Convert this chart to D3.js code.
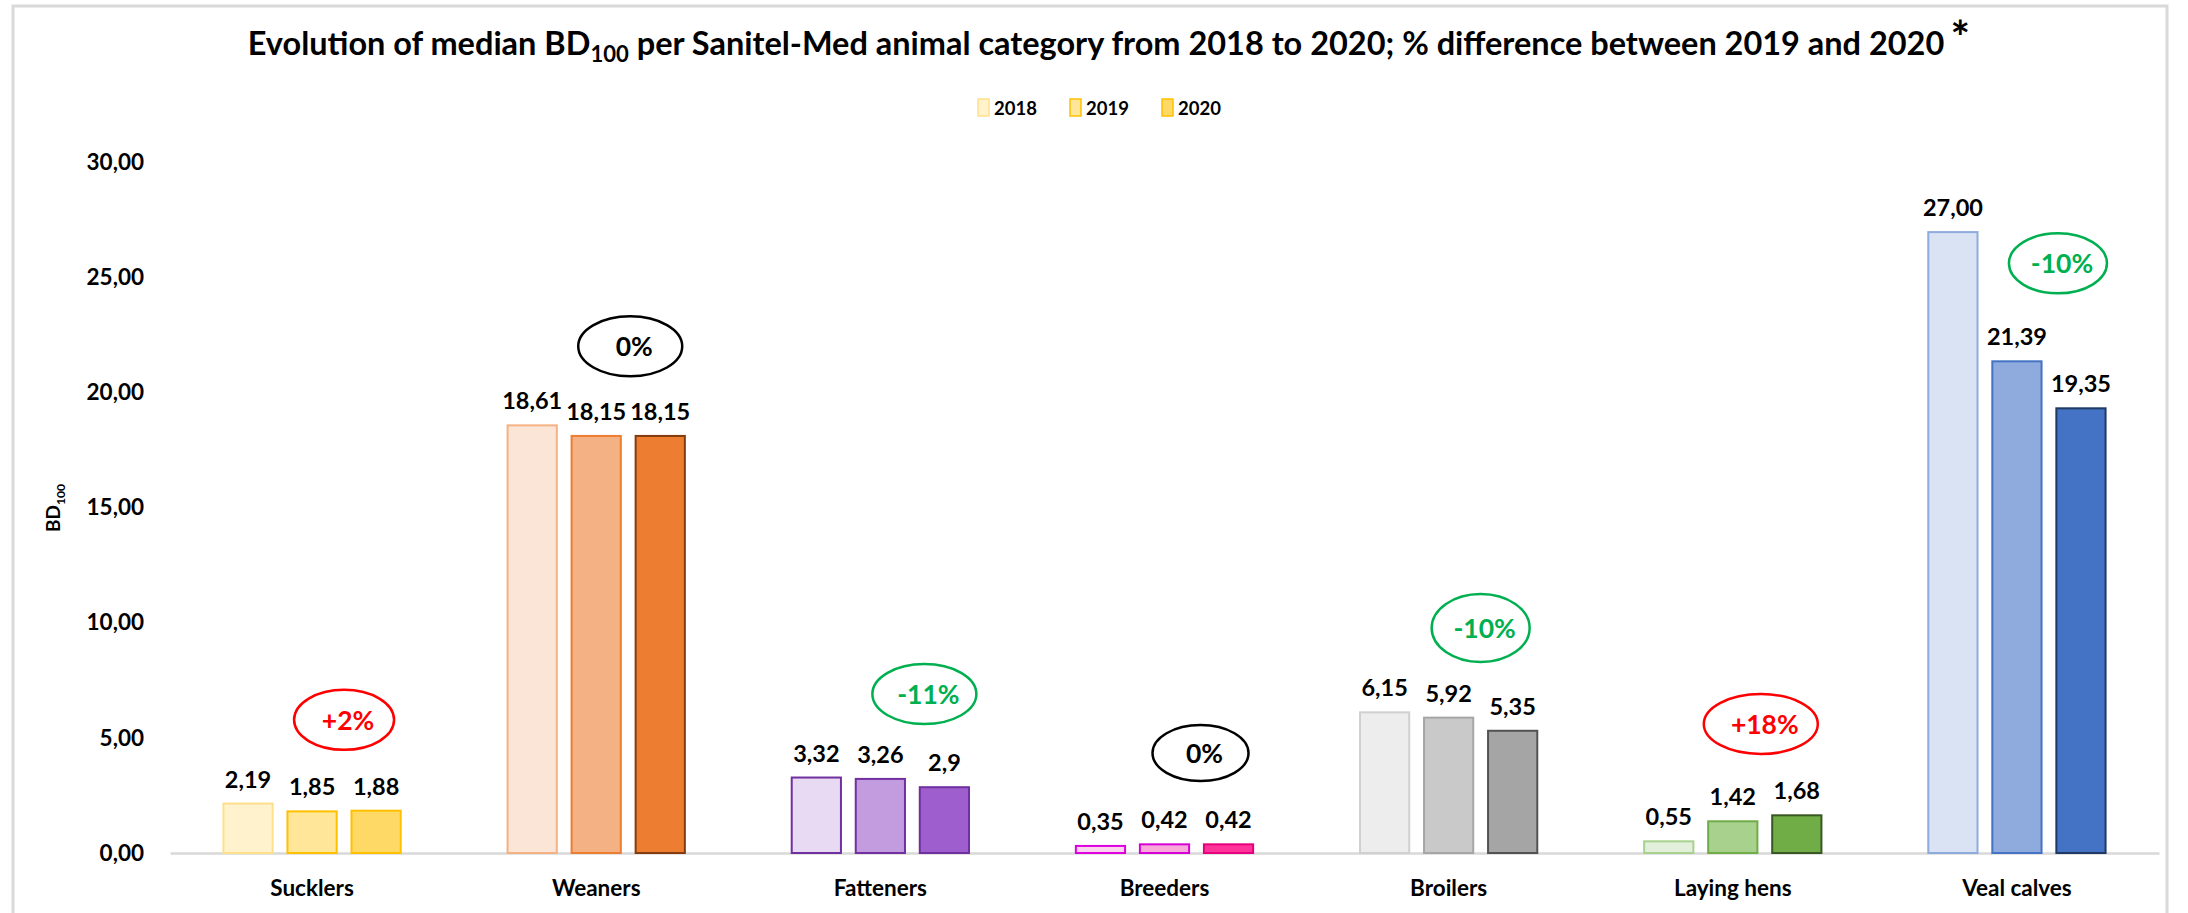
<!DOCTYPE html>
<html>
<head>
<meta charset="utf-8">
<script src="https://cdn.jsdelivr.net/npm/d3@7"></script>
<style>
  html, body { margin: 0; padding: 0; background: #fff; }
  svg { display: block; font-family: Lato, "Open Sans", sans-serif; }
</style>
</head>
<body>
<svg id="chart" width="2188" height="913"></svg>
<script>
// ---------------- data ----------------
const categories = ['Sucklers', 'Weaners', 'Fatteners', 'Breeders', 'Broilers', 'Laying hens', 'Veal calves'];
const years = ['2018', '2019', '2020'];
const values2018 = [2.19, 18.61, 3.32, 0.35, 6.15, 0.55, 27.00];
const values2019 = [1.85, 18.15, 3.26, 0.42, 5.92, 1.42, 21.39];
const values2020 = [1.88, 18.15, 2.9, 0.42, 5.35, 1.68, 19.35];
const labels2018 = ['2,19', '18,61', '3,32', '0,35', '6,15', '0,55', '27,00'];
const labels2019 = ['1,85', '18,15', '3,26', '0,42', '5,92', '1,42', '21,39'];
const labels2020 = ['1,88', '18,15', '2,9', '0,42', '5,35', '1,68', '19,35'];
const diffLabels = ['+2%', '0%', '-11%', '0%', '-10%', '+18%', '-10%'];
const diffLevel = [5.78, 22.0, 6.9, 4.34, 9.77, 5.6, 25.6];   // height (BD100 units) of the annotation
const yTicks = [0, 5, 10, 15, 20, 25, 30];

// ---------------- styles ----------------
const fills = {
  'Sucklers':    ['#FFF2CC', '#FFE699', '#FFD966'],
  'Weaners':     ['#FBE5D6', '#F4B183', '#ED7D31'],
  'Fatteners':   ['#E8DAF2', '#C39BDF', '#9E5ECE'],
  'Breeders':    ['#FCD3EE', '#F9A8DA', '#FF3399'],
  'Broilers':    ['#EDEDED', '#C9C9C9', '#A5A5A5'],
  'Laying hens': ['#E2EFDA', '#A9D18E', '#70AD47'],
  'Veal calves': ['#DAE3F3', '#8FAADC', '#4472C4']
};
const strokes = {
  'Sucklers':    ['#FFE08A', '#FFC000', '#FFC000'],
  'Weaners':     ['#F4B183', '#ED7D31', '#843C0C'],
  'Fatteners':   ['#7030A0', '#7030A0', '#7030A0'],
  'Breeders':    ['#DD00DD', '#D600D6', '#E6007E'],
  'Broilers':    ['#D0D0D0', '#A6A6A6', '#525252'],
  'Laying hens': ['#A9D18E', '#70AD47', '#385723'],
  'Veal calves': ['#8FAADC', '#4472C4', '#203864']
};
const diffDx = [0, 2, 12, 4, 0, -4, 9];
const diffRx = [50, 52, 52, 48, 49, 57, 49];
const diffRy = [30, 30, 30, 28, 34, 30, 30];
const diffColor = s => s.startsWith('+') ? '#FF0000' : s.startsWith('-') ? '#00B050' : '#000000';

const seriesValues = [values2018, values2019, values2020];
const seriesLabels = [labels2018, labels2019, labels2020];

const svg = d3.select('#chart');

// chart frame
svg.append('path')
  .attr('d', 'M13,913V6H2167V913')
  .attr('fill', 'none').attr('stroke', '#D9D9D9').attr('stroke-width', 3);

// scales
const y = d3.scaleLinear().domain([0, 30]).range([853, 162]);
const x0 = d3.scaleBand().domain(categories).range([170, 2159]).paddingInner(0.324).paddingOuter(0.162);
const x1 = d3.scaleBand().domain(years).range([0, x0.bandwidth()]).paddingInner(0.2).paddingOuter(0.1);

// title
const title = svg.append('text')
  .attr('x', 1096).attr('y', 55)
  .attr('text-anchor', 'middle')
  .attr('font-weight', 700).attr('font-size', 29).attr('fill', '#000');
title.append('tspan').text('Evolution of median BD');
title.append('tspan').attr('dy', 7).attr('font-size', '0.68em').text('100');
title.append('tspan').attr('dy', -7).text(' per Sanitel-Med animal category from 2018 to 2020; % difference between 2019 and 2020');
{
  const w = title.node().getComputedTextLength();
  const target = 1697;
  title.attr('font-size', 29 * target / w);
}
const tb = title.node().getBBox();
svg.append('text')
  .attr('x', tb.x + tb.width + 16).attr('y', 54)
  .attr('text-anchor', 'middle')
  .attr('font-weight', 700).attr('font-size', 46).text('*');

// legend
const legend = svg.append('g');
years.forEach((yr, i) => {
  const gx = 978 + i * 92;
  legend.append('rect')
    .attr('x', gx).attr('y', 99).attr('width', 11).attr('height', 17)
    .attr('fill', fills['Sucklers'][i]).attr('stroke', strokes['Sucklers'][i]).attr('stroke-width', 1.5);
  legend.append('text')
    .attr('x', gx + 16).attr('y', 115)
    .attr('font-weight', 700).attr('font-size', 18.5).text(yr);
});

// y axis
const yAxis = d3.axisLeft(y).tickValues(yTicks).tickSize(0).tickPadding(6)
  .tickFormat(d => d3.format('.2f')(d).replace('.', ','));
const gy = svg.append('g').attr('transform', 'translate(150,0)').call(yAxis);
gy.select('.domain').remove();
gy.selectAll('text').attr('font-family', 'Lato, sans-serif').attr('font-weight', 700)
  .attr('font-size', 22.5).attr('fill', '#000');

// y title
const yt = svg.append('text')
  .attr('transform', 'translate(60,508) rotate(-90)')
  .attr('text-anchor', 'middle')
  .attr('font-weight', 700).attr('font-size', 19);
yt.append('tspan').text('BD');
yt.append('tspan').attr('dy', 5).attr('font-size', 12).text('100');

// x axis
const xAxis = d3.axisBottom(x0).tickSize(0).tickSizeOuter(0).tickPadding(27);
const gx = svg.append('g').attr('transform', 'translate(0,853)').call(xAxis);
gx.select('.domain').attr('stroke', '#D9D9D9').attr('stroke-width', 2.5);
gx.selectAll('text').attr('font-family', 'Lato, sans-serif').attr('font-weight', 700)
  .attr('font-size', 22.5).attr('fill', '#000');

// bars
const rows = [];
categories.forEach((c, ci) => years.forEach((yr, yi) => {
  rows.push({ cat: c, ci, year: yr, yi, value: seriesValues[yi][ci], label: seriesLabels[yi][ci] });
}));

const bars = svg.append('g');
bars.selectAll('rect').data(rows).join('rect')
  .attr('x', d => x0(d.cat) + x1(d.year) + 1)
  .attr('width', x1.bandwidth() - 2)
  .attr('y', d => y(d.value) + 1)
  .attr('height', d => Math.max(0, y(0) - y(d.value) - 1))
  .attr('fill', d => fills[d.cat][d.yi])
  .attr('stroke', d => strokes[d.cat][d.yi])
  .attr('stroke-width', 2);

// value labels
svg.append('g').selectAll('text').data(rows).join('text')
  .attr('x', d => x0(d.cat) + x1(d.year) + x1.bandwidth() / 2)
  .attr('y', d => y(d.value) - 15)
  .attr('text-anchor', 'middle')
  .attr('font-weight', 700).attr('font-size', 23.5).attr('fill', '#000')
  .text(d => d.label);

// % difference annotations
const ann = svg.append('g');
categories.forEach((c, ci) => {
  const cx = x0(c) + (x1('2019') + x1('2020') + x1.bandwidth()) / 2 + diffDx[ci];
  const cy = y(diffLevel[ci]);
  const col = diffColor(diffLabels[ci]);
  ann.append('ellipse')
    .attr('cx', cx).attr('cy', cy).attr('rx', diffRx[ci]).attr('ry', diffRy[ci])
    .attr('fill', 'none').attr('stroke', col).attr('stroke-width', 2.5);
  ann.append('text')
    .attr('x', cx + 4).attr('y', cy + 10)
    .attr('text-anchor', 'middle')
    .attr('font-weight', 700).attr('font-size', 26.5).attr('fill', col)
    .text(diffLabels[ci]);
});
</script>
</body>
</html>
